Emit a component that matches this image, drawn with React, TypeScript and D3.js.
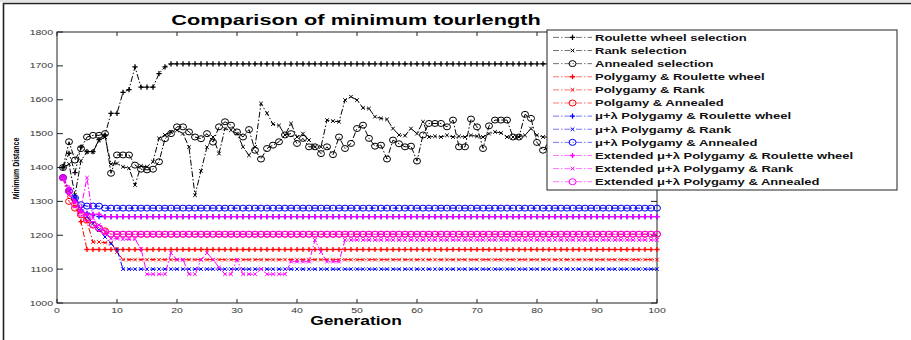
import React from 'react';
import * as d3 from 'd3';

// ---------- data (generation 1..100) ----------
const generations = d3.range(1, 101);

const roulette = [
  1400, 1442, 1385, 1460, 1447, 1447, 1482, 1496, 1560, 1560,
  1622, 1630, 1697, 1637, 1637, 1637, 1677, 1697, 1706, 1706,
  1706, 1706, 1706, 1706, 1706, 1706, 1706, 1706, 1706, 1706,
  1706, 1706, 1706, 1706, 1706, 1706, 1706, 1706, 1706, 1706,
  1706, 1706, 1706, 1706, 1706, 1706, 1706, 1706, 1706, 1706,
  1706, 1706, 1706, 1706, 1706, 1706, 1706, 1706, 1706, 1706,
  1706, 1706, 1706, 1706, 1706, 1706, 1706, 1706, 1706, 1706,
  1706, 1706, 1706, 1706, 1706, 1706, 1706, 1706, 1706, 1706,
  1706, 1706, 1706, 1706, 1706, 1706, 1706, 1706, 1706, 1706,
  1706, 1706, 1706, 1706, 1706, 1706, 1706, 1706, 1706, 1706,
];

const rank = [
  1400, 1410, 1318, 1420, 1446, 1446, 1480, 1490, 1410, 1412,
  1402, 1398, 1348, 1405, 1402, 1417, 1486, 1496, 1505, 1510,
  1500, 1460, 1318, 1390, 1460, 1490, 1441, 1515, 1510, 1500,
  1461, 1436, 1461, 1589, 1560, 1528, 1524, 1496, 1530, 1490,
  1500, 1481, 1461, 1461, 1540, 1537, 1535, 1599, 1609, 1599,
  1576, 1574, 1550, 1545, 1542, 1515, 1496, 1494, 1515, 1500,
  1535, 1490, 1492, 1490, 1495, 1490, 1492, 1490, 1495, 1492,
  1490, 1500, 1505, 1502, 1490, 1490, 1490, 1495, 1515, 1495,
  1490, 1490, 1495, 1490, 1500, 1492, 1490, 1495, 1490, 1490,
  1500, 1495, 1490, 1492, 1490, 1495, 1490, 1490, 1495, 1490,
];

const annealed = [
  1400, 1476, 1422, 1456, 1490, 1495, 1495, 1500, 1383, 1437,
  1437, 1437, 1407, 1395, 1393, 1395, 1417, 1485, 1500, 1520,
  1520, 1505, 1490, 1485, 1500, 1475, 1520, 1535, 1525, 1505,
  1490, 1512, 1451, 1425, 1456, 1466, 1476, 1496, 1500, 1471,
  1486, 1461, 1461, 1441, 1461, 1438, 1490, 1456, 1471, 1515,
  1525, 1486, 1463, 1466, 1425, 1481, 1470, 1461, 1463, 1419,
  1496, 1530, 1530, 1530, 1520, 1540, 1461, 1461, 1543, 1520,
  1456, 1523, 1540, 1540, 1540, 1490, 1490, 1557, 1545, 1474,
  1451, 1460, 1500, 1520, 1480, 1455, 1470, 1510, 1530, 1490,
  1460, 1475, 1505, 1520, 1485, 1450, 1470, 1500, 1515, 1480,
];

const polyRoulette = [
  1370, 1335, 1300, 1240, 1158, 1158, 1158, 1158, 1158, 1158,
  1158, 1158, 1158, 1158, 1158, 1158, 1158, 1158, 1158, 1158,
  1158, 1158, 1158, 1158, 1158, 1158, 1158, 1158, 1158, 1158,
  1158, 1158, 1158, 1158, 1158, 1158, 1158, 1158, 1158, 1158,
  1158, 1158, 1158, 1158, 1158, 1158, 1158, 1158, 1158, 1158,
  1158, 1158, 1158, 1158, 1158, 1158, 1158, 1158, 1158, 1158,
  1158, 1158, 1158, 1158, 1158, 1158, 1158, 1158, 1158, 1158,
  1158, 1158, 1158, 1158, 1158, 1158, 1158, 1158, 1158, 1158,
  1158, 1158, 1158, 1158, 1158, 1158, 1158, 1158, 1158, 1158,
  1158, 1158, 1158, 1158, 1158, 1158, 1158, 1158, 1158, 1158,
];

const polyRank = [
  1370, 1320, 1285, 1270, 1240, 1180, 1180, 1178, 1178, 1150,
  1128, 1128, 1128, 1128, 1128, 1128, 1128, 1128, 1128, 1128,
  1128, 1128, 1128, 1128, 1128, 1128, 1128, 1128, 1128, 1128,
  1128, 1128, 1128, 1128, 1128, 1128, 1128, 1128, 1128, 1128,
  1128, 1128, 1128, 1128, 1128, 1128, 1128, 1128, 1128, 1128,
  1128, 1128, 1128, 1128, 1128, 1128, 1128, 1128, 1128, 1128,
  1128, 1128, 1128, 1128, 1128, 1128, 1128, 1128, 1128, 1128,
  1128, 1128, 1128, 1128, 1128, 1128, 1128, 1128, 1128, 1128,
  1128, 1128, 1128, 1128, 1128, 1128, 1128, 1128, 1128, 1128,
  1128, 1128, 1128, 1128, 1128, 1128, 1128, 1128, 1128, 1128,
];

const polyAnnealed = [
  1370, 1300, 1280, 1260, 1245, 1230, 1220, 1213, 1203, 1203,
  1203, 1203, 1203, 1203, 1203, 1203, 1203, 1203, 1203, 1203,
  1203, 1203, 1203, 1203, 1203, 1203, 1203, 1203, 1203, 1203,
  1203, 1203, 1203, 1203, 1203, 1203, 1203, 1203, 1203, 1203,
  1203, 1203, 1203, 1203, 1203, 1203, 1203, 1203, 1203, 1203,
  1203, 1203, 1203, 1203, 1203, 1203, 1203, 1203, 1203, 1203,
  1203, 1203, 1203, 1203, 1203, 1203, 1203, 1203, 1203, 1203,
  1203, 1203, 1203, 1203, 1203, 1203, 1203, 1203, 1203, 1203,
  1203, 1203, 1203, 1203, 1203, 1203, 1203, 1203, 1203, 1203,
  1203, 1203, 1203, 1203, 1203, 1203, 1203, 1203, 1203, 1203,
];

const muRoulette = [
  1370, 1335, 1310, 1275, 1265, 1260, 1255, 1255, 1255, 1255,
  1255, 1255, 1255, 1255, 1255, 1255, 1255, 1255, 1255, 1255,
  1255, 1255, 1255, 1255, 1255, 1255, 1255, 1255, 1255, 1255,
  1255, 1255, 1255, 1255, 1255, 1255, 1255, 1255, 1255, 1255,
  1255, 1255, 1255, 1255, 1255, 1255, 1255, 1255, 1255, 1255,
  1255, 1255, 1255, 1255, 1255, 1255, 1255, 1255, 1255, 1255,
  1255, 1255, 1255, 1255, 1255, 1255, 1255, 1255, 1255, 1255,
  1255, 1255, 1255, 1255, 1255, 1255, 1255, 1255, 1255, 1255,
  1255, 1255, 1255, 1255, 1255, 1255, 1255, 1255, 1255, 1255,
  1255, 1255, 1255, 1255, 1255, 1255, 1255, 1255, 1255, 1255,
];

const muRank = [
  1370, 1335, 1310, 1280, 1255, 1235, 1215, 1195, 1175, 1158,
  1100, 1100, 1100, 1100, 1100, 1100, 1100, 1100, 1100, 1100,
  1100, 1100, 1100, 1100, 1100, 1100, 1100, 1100, 1100, 1100,
  1100, 1100, 1100, 1100, 1100, 1100, 1100, 1100, 1100, 1100,
  1100, 1100, 1100, 1100, 1100, 1100, 1100, 1100, 1100, 1100,
  1100, 1100, 1100, 1100, 1100, 1100, 1100, 1100, 1100, 1100,
  1100, 1100, 1100, 1100, 1100, 1100, 1100, 1100, 1100, 1100,
  1100, 1100, 1100, 1100, 1100, 1100, 1100, 1100, 1100, 1100,
  1100, 1100, 1100, 1100, 1100, 1100, 1100, 1100, 1100, 1100,
  1100, 1100, 1100, 1100, 1100, 1100, 1100, 1100, 1100, 1100,
];

const muAnnealed = [
  1370, 1330, 1310, 1290, 1286, 1286, 1286, 1280, 1280, 1280,
  1280, 1280, 1280, 1280, 1280, 1280, 1280, 1280, 1280, 1280,
  1280, 1280, 1280, 1280, 1280, 1280, 1280, 1280, 1280, 1280,
  1280, 1280, 1280, 1280, 1280, 1280, 1280, 1280, 1280, 1280,
  1280, 1280, 1280, 1280, 1280, 1280, 1280, 1280, 1280, 1280,
  1280, 1280, 1280, 1280, 1280, 1280, 1280, 1280, 1280, 1280,
  1280, 1280, 1280, 1280, 1280, 1280, 1280, 1280, 1280, 1280,
  1280, 1280, 1280, 1280, 1280, 1280, 1280, 1280, 1280, 1280,
  1280, 1280, 1280, 1280, 1280, 1280, 1280, 1280, 1280, 1280,
  1280, 1280, 1280, 1280, 1280, 1280, 1280, 1280, 1280, 1280,
];

const extRoulette = [
  1370, 1340, 1300, 1270, 1262, 1262, 1262, 1255, 1255, 1255,
  1255, 1255, 1255, 1255, 1255, 1255, 1255, 1255, 1255, 1255,
  1255, 1255, 1255, 1255, 1255, 1255, 1255, 1255, 1255, 1255,
  1255, 1255, 1255, 1255, 1255, 1255, 1255, 1255, 1255, 1255,
  1255, 1255, 1255, 1255, 1255, 1255, 1255, 1255, 1255, 1255,
  1255, 1255, 1255, 1255, 1255, 1255, 1255, 1255, 1255, 1255,
  1255, 1255, 1255, 1255, 1255, 1255, 1255, 1255, 1255, 1255,
  1255, 1255, 1255, 1255, 1255, 1255, 1255, 1255, 1255, 1255,
  1255, 1255, 1255, 1255, 1255, 1255, 1255, 1255, 1255, 1255,
  1255, 1255, 1255, 1255, 1255, 1255, 1255, 1255, 1255, 1255,
];

const extRank = [
  1370, 1320, 1300, 1280, 1370, 1250, 1230, 1210, 1190, 1190,
  1188, 1188, 1188, 1160, 1085, 1085, 1085, 1085, 1148, 1128,
  1128, 1085, 1085, 1128, 1148, 1128, 1105, 1085, 1085, 1128,
  1085, 1085, 1085, 1100, 1085, 1085, 1085, 1085, 1122, 1122,
  1122, 1122, 1186, 1150, 1122, 1122, 1122, 1186, 1186, 1186,
  1186, 1186, 1186, 1186, 1186, 1186, 1186, 1186, 1186, 1186,
  1186, 1186, 1186, 1186, 1186, 1186, 1186, 1186, 1186, 1186,
  1186, 1186, 1186, 1186, 1186, 1186, 1186, 1186, 1186, 1186,
  1186, 1186, 1186, 1186, 1186, 1186, 1186, 1186, 1186, 1186,
  1186, 1186, 1186, 1186, 1186, 1186, 1186, 1186, 1186, 1186,
];

const extAnnealed = [
  1370, 1330, 1290, 1265, 1250, 1232, 1222, 1210, 1203, 1203,
  1203, 1203, 1203, 1203, 1203, 1203, 1203, 1203, 1203, 1203,
  1203, 1203, 1203, 1203, 1203, 1203, 1203, 1203, 1203, 1203,
  1203, 1203, 1203, 1203, 1203, 1203, 1203, 1203, 1203, 1203,
  1203, 1203, 1203, 1203, 1203, 1203, 1203, 1203, 1203, 1203,
  1203, 1203, 1203, 1203, 1203, 1203, 1203, 1203, 1203, 1203,
  1203, 1203, 1203, 1203, 1203, 1203, 1203, 1203, 1203, 1203,
  1203, 1203, 1203, 1203, 1203, 1203, 1203, 1203, 1203, 1203,
  1203, 1203, 1203, 1203, 1203, 1203, 1203, 1203, 1203, 1203,
  1203, 1203, 1203, 1203, 1203, 1203, 1203, 1203, 1203, 1203,
];

const legendLabels = [
  'Roulette wheel selection',
  'Rank selection',
  'Annealed selection',
  'Polygamy & Roulette wheel',
  'Polygamy & Rank',
  'Polgamy & Annealed',
  'μ+λ Polygamy & Roulette wheel',
  'μ+λ Polygamy & Rank',
  'μ+λ Polygamy & Annealed',
  'Extended μ+λ Polygamy & Roulette wheel',
  'Extended μ+λ Polygamy & Rank',
  'Extended μ+λ Polygamy & Annealed',
];

const seriesData = [
  roulette, rank, annealed,
  polyRoulette, polyRank, polyAnnealed,
  muRoulette, muRank, muAnnealed,
  extRoulette, extRank, extAnnealed,
];
const seriesColors = ['#000000', '#ff0000', '#0000ff', '#ff00ff'];
const markerKinds = ['plus', 'x', 'o'];

const FONT = '"Liberation Sans", Arial, Helvetica, sans-serif';
const DASH = '6,2,1.5,2';

function Marker({ kind, cx, cy, color }: { kind: string; cx: number; cy: number; color: string }) {
  if (kind === 'plus') {
    const s = 2.6;
    return (
      <path d={`M${cx - s},${cy}H${cx + s}M${cx},${cy - s}V${cy + s}`} stroke={color} strokeWidth={1.3} fill="none" />
    );
  }
  if (kind === 'x') {
    const s = 1.8;
    return (
      <path
        d={`M${cx - s},${cy - s}L${cx + s},${cy + s}M${cx - s},${cy + s}L${cx + s},${cy - s}`}
        stroke={color}
        strokeWidth={1}
        fill="none"
      />
    );
  }
  return <ellipse cx={cx} cy={cy} rx={3.5} ry={3} fill="none" stroke={color} strokeWidth={1} />;
}

export default function App() {
  const x = d3.scaleLinear().domain([0, 100]).range([57, 657]);
  const y = d3.scaleLinear().domain([1000, 1800]).range([303, 32]);
  const line = d3
    .line<number>()
    .x((_, i) => x(generations[i]))
    .y((d) => y(d));

  const series = seriesData.map((data, i) => ({
    label: legendLabels[i],
    data,
    color: seriesColors[Math.floor(i / 3)],
    marker: markerKinds[i % 3],
  }));

  const xTicks = d3.range(0, 101, 10);
  const yTicks = d3.range(1000, 1801, 100);
  const [x0, x1] = x.range();
  const [y0, y1] = y.range();

  const legX = 547;
  const legY = 30;
  const legW = 350;
  const legH = 160;
  const rowStep = 13.12;

  return (
    <svg
      width={911}
      height={340}
      style={{ position: 'absolute', left: 0, top: 0, background: '#fff' }}
      fontFamily={FONT}
    >
      <rect x={0} y={0} width={911} height={340} fill="#fff" />
      {/* figure frame */}
      <path d="M0,1H911" stroke="#c8c8c8" strokeWidth={1} />
      <path d="M3.5,340V3.5H911" stroke="#222" strokeWidth={1.6} fill="none" />

      {/* title */}
      <text
        transform={`translate(356,25) scale(1.45,1)`}
        textAnchor="middle"
        fontSize={15}
        fontWeight="bold"
        fill="#000"
      >
        Comparison of minimum tourlength
      </text>

      {/* axes box */}
      <rect x={x0} y={y1} width={x1 - x0} height={y0 - y1} fill="#fff" stroke="#222" strokeWidth={1} />

      {/* ticks */}
      {yTicks.map((t) => (
        <g key={'yt' + t}>
          <line x1={x0} x2={x0 + 6} y1={y(t)} y2={y(t)} stroke="#222" strokeWidth={1} />
          <line x1={x1} x2={x1 - 6} y1={y(t)} y2={y(t)} stroke="#222" strokeWidth={1} />
          <text
            transform={`translate(${x0 - 4},${y(t) + 2.6}) scale(1.4,1)`}
            textAnchor="end"
            fontSize={7.5}
            fill="#333"
          >
            {t}
          </text>
        </g>
      ))}
      {xTicks.map((t) => (
        <g key={'xt' + t}>
          <line x1={x(t)} x2={x(t)} y1={y0} y2={y0 - 4} stroke="#222" strokeWidth={1} />
          <line x1={x(t)} x2={x(t)} y1={y1} y2={y1 + 4} stroke="#222" strokeWidth={1} />
          <text
            transform={`translate(${x(t)},${y0 + 10}) scale(1.4,1)`}
            textAnchor="middle"
            fontSize={7.5}
            fill="#333"
          >
            {t}
          </text>
        </g>
      ))}

      {/* axis labels */}
      <text
        transform={`translate(356,325) scale(1.39,1)`}
        textAnchor="middle"
        fontSize={12.5}
        fontWeight="bold"
        fill="#000"
      >
        Generation
      </text>
      <text
        transform={`translate(19,168.5) scale(1.4,1) rotate(-90)`}
        textAnchor="middle"
        fontSize={7}
        fontWeight="bold"
        fill="#000"
      >
        Minimum Distance
      </text>

      {/* series */}
      {series.map((s, si) => (
        <g key={'s' + si}>
          <path d={line(s.data) || ''} fill="none" stroke={s.color} strokeWidth={1} strokeDasharray={DASH} />
          {s.data.map((v, i) => (
            <Marker key={i} kind={s.marker} cx={x(generations[i])} cy={y(v)} color={s.color} />
          ))}
        </g>
      ))}

      {/* legend */}
      <rect x={legX} y={legY} width={legW} height={legH} fill="#fff" stroke="#222" strokeWidth={1} />
      {series.map((s, i) => {
        const yb = legY + 10.7 + i * rowStep;
        const ly = yb - 3.3;
        return (
          <g key={'lg' + i}>
            <line x1={553} x2={592} y1={ly} y2={ly} stroke={s.color} strokeOpacity={0.55} strokeWidth={1} strokeDasharray={DASH} />
            <Marker kind={s.marker} cx={572.5} cy={ly} color={s.color} />
            <text
              transform={`translate(595,${yb}) scale(1.37,1)`}
              fontSize={9.5}
              fontWeight="bold"
              fill="#111"
            >
              {s.label}
            </text>
          </g>
        );
      })}
    </svg>
  );
}
